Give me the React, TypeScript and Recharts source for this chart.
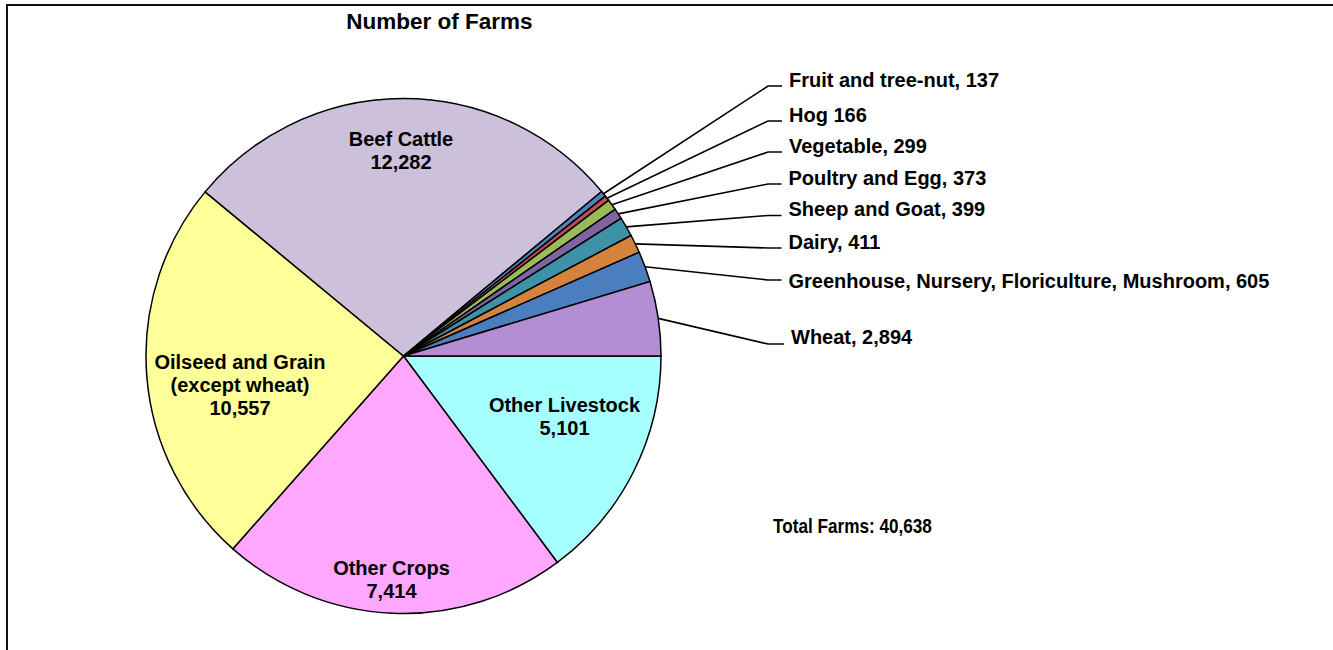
import React from 'react';
import { PieChart, Pie, Cell } from 'recharts';

// Categories in drawing order (clockwise from 3 o'clock)
const categories = [
  'Other Livestock',
  'Other Crops',
  'Oilseed and Grain (except wheat)',
  'Beef Cattle',
  'Fruit and tree-nut',
  'Hog',
  'Vegetable',
  'Poultry and Egg',
  'Sheep and Goat',
  'Dairy',
  'Greenhouse, Nursery, Floriculture, Mushroom',
  'Wheat',
];

// Number of farms as labelled in the reference
const farmCounts = [5101, 7414, 10557, 12282, 137, 166, 299, 373, 399, 411, 605, 2894];

// Slice sizes as drawn in the reference (degrees of arc;
// the drawn slices do not follow the labelled counts exactly)
const sliceDegrees = [53.3, 78.2, 88.1, 100.7, 1.3, 1.2, 2.5, 2.4, 4.4, 4.15, 6.95, 16.8];

// Separator between name and count in the outside labels
const labelSeparators = ['', '', '', '', ', ', ' ', ', ', ', ', ', ', ', ', ', ', ', '];

// Inside label lines (name part) for the large slices
const insideNameLines: string[][] = [
  ['Other Livestock'],
  ['Other Crops'],
  ['Oilseed and Grain', '(except wheat)'],
  ['Beef Cattle'],
];

const colors = [
  '#A6FFFF', '#FFA6FF', '#FFFF99', '#CCC0DA',
  '#4F81BD', '#C0504D', '#9BBB59', '#8064A2',
  '#3D92A8', '#D4823C', '#4A7EBE', '#B38ED2',
];

const data = categories.map((name, i) => ({
  name,
  count: farmCounts[i],
  share: sliceDegrees[i],
}));

const fmt = (n: number) => n.toLocaleString('en-US');
const totalFarms = farmCounts.reduce((a, b) => a + b, 0);

// Layout (label placement); chart has default 5px margin
const CX = 398.5;
const CY = 351;
const R = 257.5;
const FONT = "'Liberation Sans', Arial, sans-serif";
const FS = 20;
const LINE_H = 23;
const insideOffsets = [
  { dx: 161, dy: 55.7 },
  { dx: -12, dy: 219 },
  { dx: -163.5, dy: 13 },
  { dx: -2.5, dy: -210.3 },
];
// [leader y, text baseline y, text x] for outside labels (index 4..11)
const outsideLayout: number[][] = [
  [86, 87, 789],
  [121, 122, 789],
  [152, 152.5, 789],
  [184, 184.5, 788.5],
  [215.5, 216, 788.5],
  [248, 248.5, 788.5],
  [280, 288, 788.5],
  [344, 343.5, 791],
];

const RADIAN = Math.PI / 180;

const renderLabel = (props: any) => {
  const { cx, cy, midAngle, outerRadius, index } = props;
  if (index < 4) {
    const lines = [...insideNameLines[index], fmt(farmCounts[index])];
    const off = insideOffsets[index];
    return (
      <g key={`lbl-${index}`}>
        {lines.map((t, k) => (
          <text
            key={k}
            x={cx + off.dx}
            y={cy + off.dy + k * LINE_H}
            textAnchor="middle"
            fontFamily={FONT}
            fontWeight="bold"
            fontSize={FS}
            fill="#000"
          >
            {t}
          </text>
        ))}
      </g>
    );
  }
  const [ly, by, tx] = outsideLayout[index - 4];
  const sx = cx + outerRadius * Math.cos(-midAngle * RADIAN);
  const sy = cy + outerRadius * Math.sin(-midAngle * RADIAN);
  const ex = 768;
  return (
    <g key={`lbl-${index}`}>
      <polyline
        points={`${sx},${sy} ${ex},${ly} ${tx - 7},${ly}`}
        fill="none"
        stroke="#000"
        strokeWidth={1.6}
      />
      <text x={tx} y={by} fontFamily={FONT} fontWeight="bold" fontSize={FS} fill="#000">
        {`${categories[index]}${labelSeparators[index]}${fmt(farmCounts[index])}`}
      </text>
    </g>
  );
};

export default function App() {
  return (
    <div
      style={{
        position: 'absolute',
        left: 0,
        top: 0,
        width: 1333,
        height: 650,
        overflow: 'hidden',
        background: '#fff',
      }}
    >
      <div
        style={{
          position: 'absolute',
          left: 6,
          top: 4,
          width: 1400,
          height: 700,
          borderLeft: '2px solid #111',
          borderTop: '2px solid #111',
        }}
      />
      <svg
        width={1333}
        height={650}
        style={{ position: 'absolute', left: 0, top: 0 }}
      >
        <text
          x={439.5}
          y={29}
          textAnchor="middle"
          fontFamily={FONT}
          fontWeight="bold"
          fontSize={22.5}
          fill="#000"
        >
          Number of Farms
        </text>
        <text
          transform="translate(773,533) scale(0.88,1)"
          fontFamily={FONT}
          fontWeight="bold"
          fontSize={19.5}
          fill="#000"
        >
          {`Total Farms: ${fmt(totalFarms)}`}
        </text>
      </svg>
      <div style={{ position: 'absolute', left: 0, top: 0 }}>
        <PieChart width={1333} height={650}>
          <Pie
            data={data}
            dataKey="share"
            nameKey="name"
            cx={CX}
            cy={CY}
            outerRadius={R}
            startAngle={0}
            endAngle={-360}
            stroke="#000"
            strokeWidth={1.5}
            label={renderLabel}
            labelLine={false}
            isAnimationActive={false}
          >
            {data.map((d, i) => (
              <Cell key={d.name} fill={colors[i]} />
            ))}
          </Pie>
        </PieChart>
      </div>
    </div>
  );
}
